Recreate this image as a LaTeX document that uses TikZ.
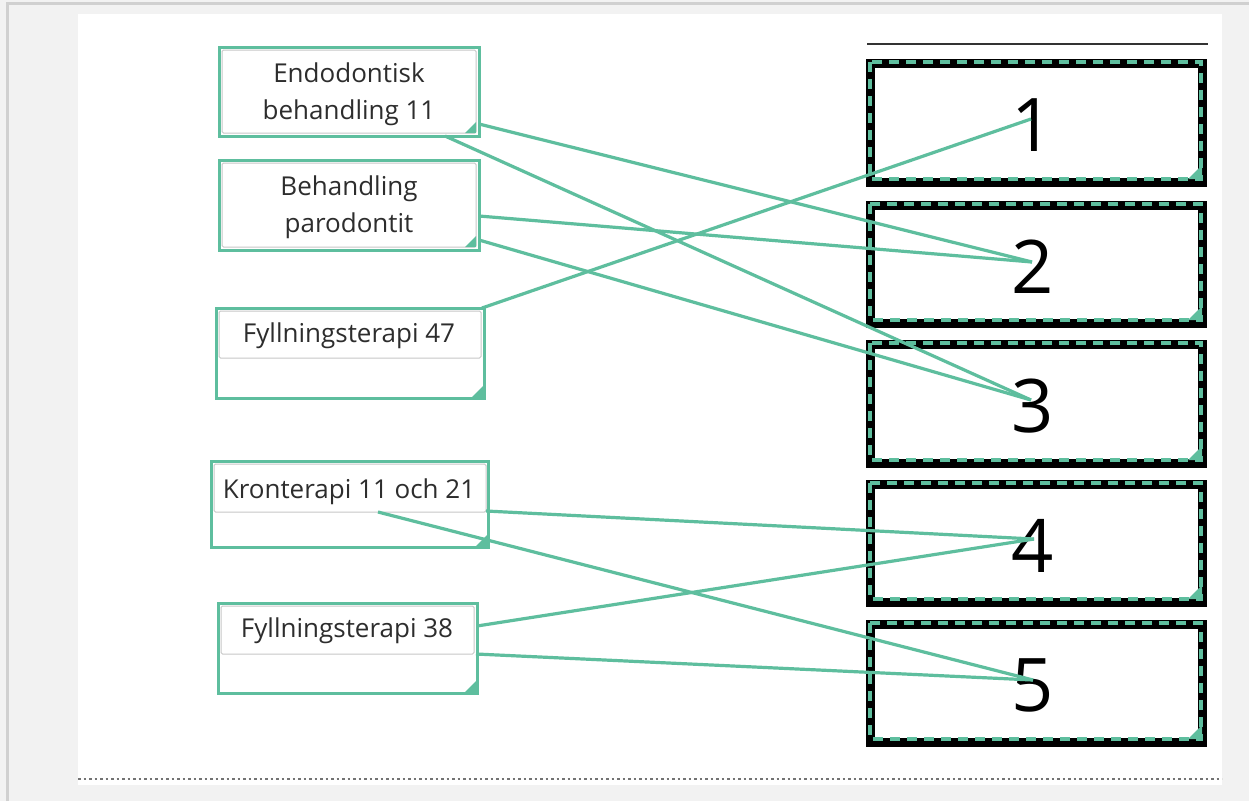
\documentclass[tikz,border=0pt]{standalone}
\usepackage{fontspec}
\setmainfont{Open Sans}
\definecolor{tealc}{RGB}{94,190,158}
\definecolor{bgc}{RGB}{242,242,242}
\definecolor{edgec}{RGB}{208,208,208}
\definecolor{txtc}{RGB}{45,45,45}
\tikzset{
  outerbox/.style={draw=tealc, line width=3pt, fill=white},
  innerbox/.style={draw=black!22, line width=1pt, fill=white, rounded corners=1.5pt},
  lbl/.style={font=\fontsize{26}{37}\selectfont, text=txtc, align=center},
  numbox/.style={draw=black, line width=9pt, fill=white},
  dashbox/.style={draw=tealc, line width=3.5pt, dash pattern=on 10pt off 7pt},
  num/.style={font=\fontsize{74}{80}\selectfont, text=black},
  conn/.style={draw=tealc, line width=3.2pt},
  corner/.style={fill=tealc}
}
\begin{document}
\begin{tikzpicture}[x=1pt,y=-1pt]
\useasboundingbox (0,0) rectangle (1249,801);
% background
\fill[bgc] (0,0) rectangle (1249,801);
\draw[edgec, line width=3pt] (7,801) -- (7,3) -- (1249,3);
\fill[white] (78,14) rectangle (1222,785);
\draw[black!55, line width=2.2pt, dash pattern=on 2.5pt off 3pt] (78,779) -- (1222,779);
% top rule
\draw[black!80, line width=1.5pt] (867,44) -- (1208,44);

% left boxes
\path[outerbox] (219,47) rectangle (479,136);
\path[innerbox] (222,50) rectangle (476,133);
\node[lbl] (t1) at (349,94) {Endodontisk\\behandling 11};
\fill[corner] (476,133) -- (465,133) -- (476,122) -- cycle;

\path[outerbox] (219,160) rectangle (479,250);
\path[innerbox] (222,163) rectangle (476,247);
\node[lbl] (t2) at (349,207) {Behandling\\parodontit};
\fill[corner] (476,247) -- (465,247) -- (476,236) -- cycle;

\path[outerbox] (216,308) rectangle (484,398);
\path[innerbox] (219,311) rectangle (481,358);
\node[lbl] (t3) at (349,336) {Fyllningsterapi 47};
\fill[corner] (483,397) -- (472,397) -- (483,386) -- cycle;

\path[outerbox] (211,461) rectangle (488,547);
\path[innerbox] (214,464) rectangle (486,512);
\node[lbl] (t4) at (349,492) {Kronterapi 11 och 21};
\fill[corner] (487,546) -- (476,546) -- (487,535) -- cycle;

\path[outerbox] (218,603) rectangle (477,693);
\path[innerbox] (221,606) rectangle (474,654);
\node[lbl] (t5) at (347,631) {Fyllningsterapi 38};
\fill[corner] (476,692) -- (465,692) -- (476,681) -- cycle;

% right boxes
\foreach \n/\t/\b in {1/59/187, 2/201/328, 3/340/468, 4/480/607, 5/620/747}{
  \path[numbox] (870.5,\t+4.5) rectangle (1202.5,\b-4.5);
  \path[dashbox] (870,\t+3) rectangle (1201,\b-8);
  \fill[corner] (1202,\b-8) -- (1188,\b-8) -- (1202,\b-22) -- cycle;
  \node[num] (n\n) at (1033,{(\t+\b)/2+2}) {\n};
}

% connector end points
\coordinate (r1) at (1031,119);
\coordinate (r2) at (1032,262);
\coordinate (r3) at (1031,400);
\coordinate (r4) at (1034,539);
\coordinate (r5) at (1033,680);
\coordinate (e1a) at (479,124);
\coordinate (e1b) at (445,136);
\coordinate (b2a) at (479,216);
\coordinate (b2b) at (479,240);
\coordinate (f47) at (482,308);
\coordinate (k1) at (486,511);
\coordinate (k2) at (378,512);
\coordinate (f38a) at (477,626);
\coordinate (f38b) at (476,654);

\draw[conn] (e1a) -- (r2);
\draw[conn] (e1b) -- (r3);
\draw[conn] (b2a) -- (r2);
\draw[conn] (b2b) -- (r3);
\draw[conn] (f47) -- (r1);
\draw[conn] (k1) -- (r4);
\draw[conn] (k2) -- (r5);
\draw[conn] (f38a) -- (r4);
\draw[conn] (f38b) -- (r5);
\end{tikzpicture}
\end{document}
